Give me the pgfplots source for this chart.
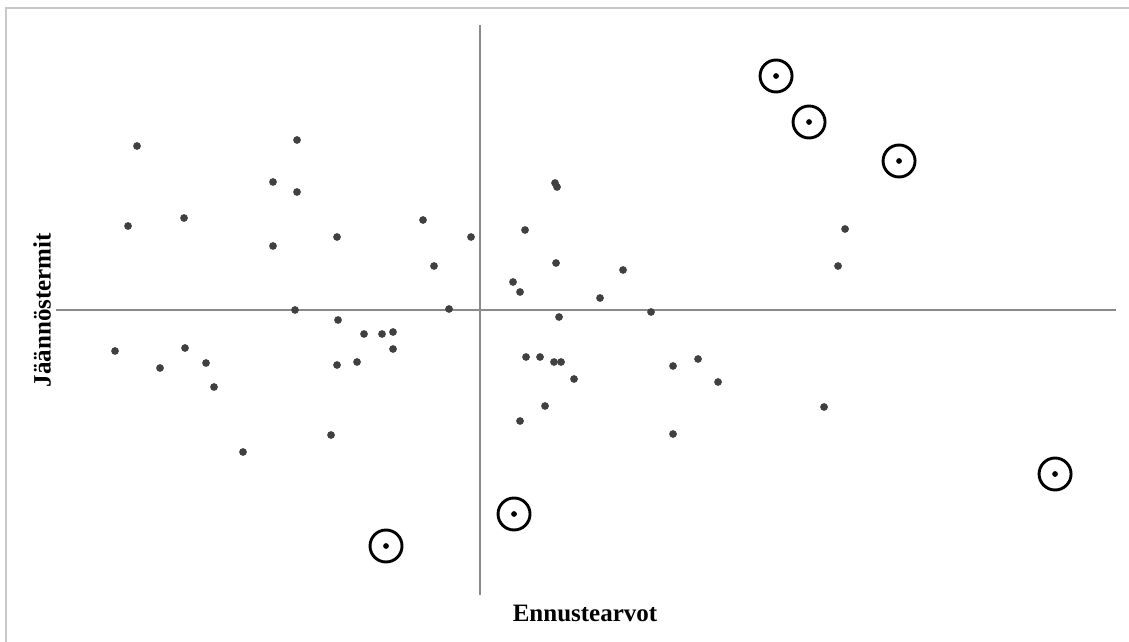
\documentclass[border=0pt]{standalone}
\usepackage{fontspec}
\setmainfont{Liberation Serif}
\usepackage{pgfplots}
\pgfplotsset{compat=1.18}
\definecolor{dotgray}{HTML}{404040}
\definecolor{linegray}{HTML}{8A8A8A}
\definecolor{framegray}{HTML}{C8C8C8}
\begin{document}
\begin{tikzpicture}
\begin{axis}[
  scale only axis, width=1129pt, height=642pt,
  xmin=-480, xmax=649, ymin=-332, ymax=310,
  axis lines=none, clip=false,
]
% frame (left and top edges)
\addplot[framegray, line width=2pt] coordinates {(-474,-332) (-474,302) (649,302)};
% zero lines
\addplot[linegray, line width=1.5pt] coordinates {(-424,0) (636,0)};
\addplot[linegray, line width=1.5pt] coordinates {(0,285) (0,-285)};
% residuals
\addplot[only marks, mark=*, mark size=3.6pt, mark options={draw=dotgray, fill=dotgray}] coordinates {
(-343,164) (-183,170) (-207,128) (-183,118) (-352,84) (-296,92) (-207,64) (-143,73)
(-57,90) (-46,44) (-9,73) (-185,0) (-31,1) (-142,-10) (-116,-24) (-98,-24) (-87,-22)
(-87,-39) (-365,-41) (-295,-38) (-320,-58) (-274,-53) (-266,-77) (-143,-55) (-123,-52)
(-149,-125) (-237,-142)
(75,127) (77,123) (45,80) (76,47) (33,28) (40,18) (143,40) (120,12) (171,-2) (79,-7)
(46,-47) (60,-47) (74,-52) (81,-52) (94,-69) (193,-56) (218,-49) (238,-72) (65,-96)
(40,-111) (193,-124) (344,-97) (358,44) (365,81)
};
% outliers
\addplot[only marks, mark=o, mark size=16pt, mark options={draw=black, line width=2.9pt}] coordinates {
(296,234) (329,188) (419,149) (575,-164) (34,-204) (-94,-236)
};
\addplot[only marks, mark=*, mark size=2.6pt, mark options={draw=black, fill=black}] coordinates {
(296,234) (329,188) (419,149) (575,-164) (34,-204) (-94,-236)
};
\node[rotate=90, font=\fontsize{25}{30}\selectfont\bfseries] at (axis cs:-438,0) {Jäännöstermit};
\node[font=\fontsize{25}{30}\selectfont\bfseries] at (axis cs:105,-303) {Ennustearvot};
\end{axis}
\pgfresetboundingbox
\useasboundingbox (0,0) rectangle (1129pt,642pt);
\end{tikzpicture}
\end{document}
